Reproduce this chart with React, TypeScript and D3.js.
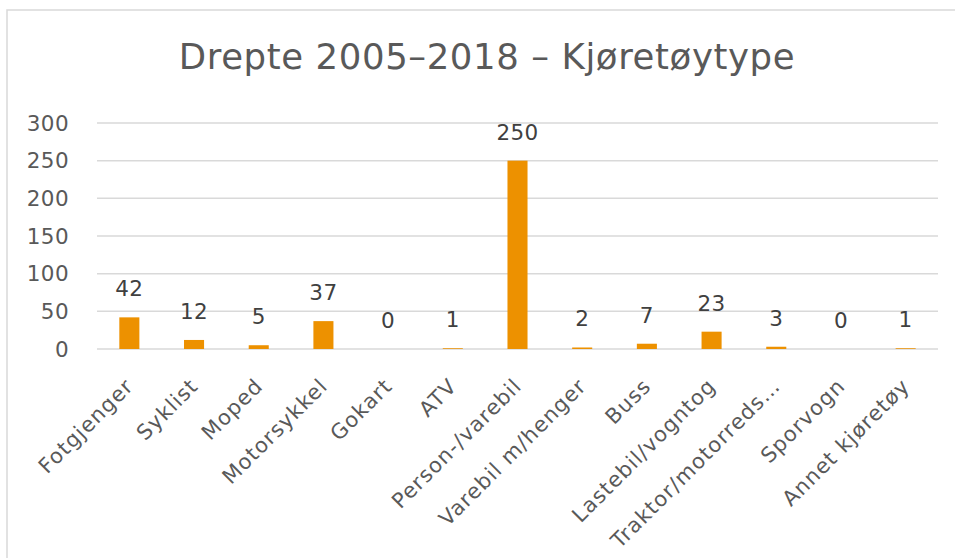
import { useEffect, useRef } from "react";
import * as d3 from "d3";

const categories = [
  "Fotgjenger",
  "Syklist",
  "Moped",
  "Motorsykkel",
  "Gokart",
  "ATV",
  "Person-/varebil",
  "Varebil m/henger",
  "Buss",
  "Lastebil/vogntog",
  "Traktor/motorreds…",
  "Sporvogn",
  "Annet kjøretøy",
];
const killed = [42, 12, 5, 37, 0, 1, 250, 2, 7, 23, 3, 0, 1];
const yTicks = [0, 50, 100, 150, 200, 250, 300];
const title = "Drepte 2005–2018 – Kjøretøytype";

function App() {
  const svgRef = useRef(null);
  const width = 955;
  const height = 558;

  useEffect(() => {
    const svg = d3.select(svgRef.current);
    svg.selectAll("*").remove();

    const margin = { top: 123, right: 17, bottom: 209, left: 97 };
    const innerW = width - margin.left - margin.right;
    const innerH = height - margin.top - margin.bottom;
    const font = "'DejaVu Sans', Verdana, sans-serif";
    const grey = "#595959";

    // chart frame
    svg
      .append("rect")
      .attr("x", 7)
      .attr("y", 10)
      .attr("width", width + 10)
      .attr("height", height + 10)
      .attr("fill", "#fff")
      .attr("stroke", "#d9d9d9")
      .attr("stroke-width", 1.5);

    svg
      .append("text")
      .attr("x", 487)
      .attr("y", 69)
      .attr("text-anchor", "middle")
      .attr("font-family", font)
      .attr("font-size", 35.5)
      .attr("letter-spacing", 0.6)
      .attr("fill", grey)
      .text(title);

    const g = svg
      .append("g")
      .attr("transform", `translate(${margin.left},${margin.top})`);

    const x = d3.scaleBand().domain(categories).range([0, innerW]).paddingInner(0.69).paddingOuter(0.345);
    const y = d3.scaleLinear().domain([0, 300]).range([innerH, 0]);

    // gridlines
    g.selectAll("line.grid")
      .data(yTicks)
      .enter()
      .append("line")
      .attr("x1", 0)
      .attr("x2", innerW)
      .attr("y1", (d) => y(d))
      .attr("y2", (d) => y(d))
      .attr("stroke", "#d9d9d9")
      .attr("stroke-width", 1.5);

    // y tick labels
    g.selectAll("text.ytick")
      .data(yTicks)
      .enter()
      .append("text")
      .attr("x", -28)
      .attr("y", (d) => y(d))
      .attr("dy", "0.35em")
      .attr("text-anchor", "end")
      .attr("font-family", font)
      .attr("font-size", 21.5)
      .attr("letter-spacing", 0.4)
      .attr("fill", grey)
      .text((d) => d);

    // bars
    g.selectAll("rect.bar")
      .data(killed)
      .enter()
      .append("rect")
      .attr("x", (d, i) => x(categories[i]))
      .attr("y", (d) => y(d))
      .attr("width", x.bandwidth())
      .attr("height", (d) => innerH - y(d))
      .attr("fill", "#ED9100");

    // data labels
    g.selectAll("text.val")
      .data(killed)
      .enter()
      .append("text")
      .attr("x", (d, i) => x(categories[i]) + x.bandwidth() / 2)
      .attr("y", (d) => y(d) - 21)
      .attr("text-anchor", "middle")
      .attr("font-family", font)
      .attr("font-size", 21.5)
      .attr("letter-spacing", 0.4)
      .attr("fill", "#404040")
      .text((d) => d);

    // x labels, rotated
    g.selectAll("text.xlab")
      .data(categories)
      .enter()
      .append("text")
      .attr("transform", (d) => {
        const cx = x(d) + x.bandwidth() / 2 - 5;
        return `translate(${cx},${innerH + 28}) rotate(-45)`;
      })
      .attr("text-anchor", "end")
      .attr("dy", "0.7em")
      .attr("font-family", font)
      .attr("font-size", 21)
      .attr("letter-spacing", 1.1)
      .attr("fill", grey)
      .text((d) => d);
  }, []);

  return (
    <svg
      ref={svgRef}
      width={width}
      height={height}
      style={{ position: "absolute", left: 0, top: 0 }}
    />
  );
}

export default App;
